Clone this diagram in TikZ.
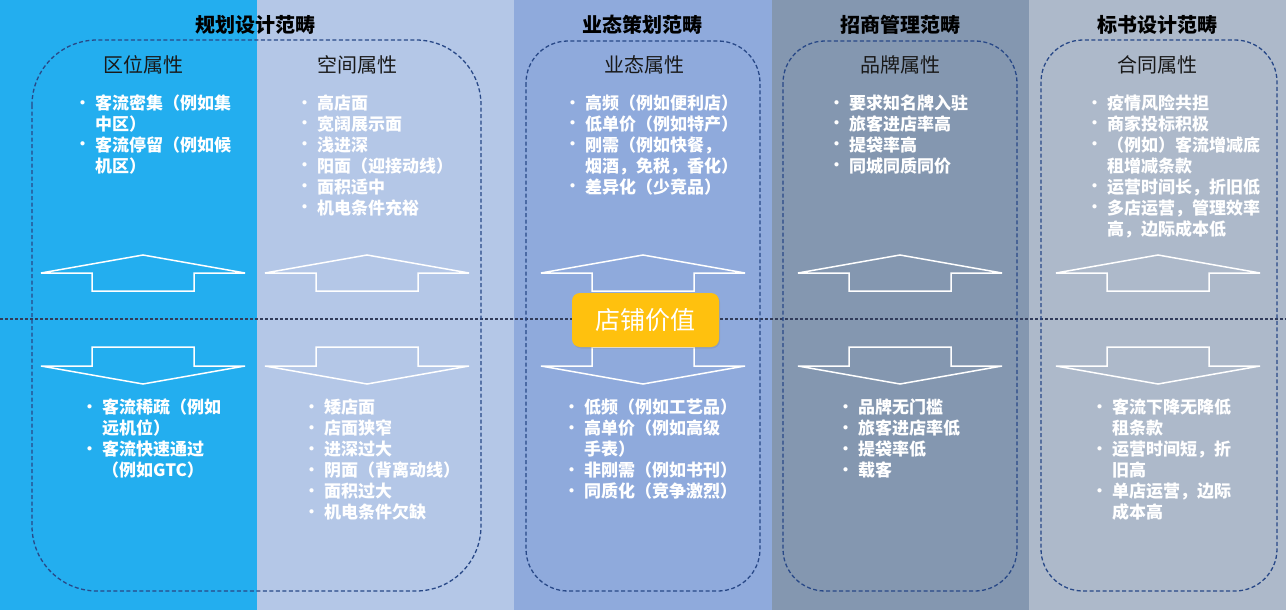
\documentclass[tikz,border=0pt]{standalone}
\usepackage{fontspec}
\setmainfont{Noto Sans CJK SC}
\usetikzlibrary{shadows}
\definecolor{cA}{RGB}{35,174,239}
\definecolor{cB}{RGB}{180,199,231}
\definecolor{cC}{RGB}{143,170,220}
\definecolor{cD}{RGB}{132,151,176}
\definecolor{cE}{RGB}{173,185,202}
\definecolor{dashblue}{RGB}{40,72,135}
\definecolor{hlinecol}{RGB}{50,60,90}
\definecolor{gold}{RGB}{255,193,14}
\newcommand\bi[1]{\makebox[22pt][l]{\hspace{2pt}\raisebox{1.5pt}{\fontsize{15}{15}\selectfont•}}#1}
\newcommand\ci[1]{\hspace*{22pt}#1}
\tikzset{
  hdr/.style={font=\fontsize{20}{24}\selectfont\bfseries, text=black, inner sep=0pt},
  sub/.style={font=\fontsize{20}{24}\selectfont, text=black!90, inner sep=0pt},
  lst/.style={font=\fontsize{17}{21}\selectfont\bfseries, text=white, inner sep=0pt, anchor=base west},
  dbox/.style={draw=dashblue, line width=1.3pt, dash pattern=on 4pt off 2.5pt},
  hline/.style={draw=hlinecol, line width=1.2pt, dash pattern=on 2.5pt off 2.5pt},
  arrline/.style={draw=white, line width=1.5pt, line join=miter},
  core/.style={fill=gold, rounded corners=8pt, minimum width=147pt, minimum height=54pt,
    text=white, font=\fontsize{25}{30}\selectfont, inner sep=0pt,
    drop shadow={opacity=0.25, shadow xshift=1pt, shadow yshift=-1.5pt}}
}
\newcommand\uparr[1]{%
  \draw[arrline] (#1,255) -- ({#1+102},273) -- ({#1+51},273) -- ({#1+51},291)
    -- ({#1-51},291) -- ({#1-51},273) -- ({#1-102},273) -- cycle;}
\newcommand\downarr[1]{%
  \draw[arrline] ({#1-51},347) -- ({#1+51},347) -- ({#1+51},366) -- ({#1+102},366)
    -- (#1,384) -- ({#1-102},366) -- ({#1-51},366) -- cycle;}
\begin{document}
\begin{tikzpicture}[x=1pt,y=-1pt]
\useasboundingbox (0,0) rectangle (1286,610);
% column backgrounds
\fill[cA] (0,0) rectangle (257,610);
\fill[cB] (257,0) rectangle (514,610);
\fill[cC] (514,0) rectangle (772,610);
\fill[cD] (772,0) rectangle (1029,610);
\fill[cE] (1029,0) rectangle (1286,610);
% horizontal dotted line
\draw[hline] (0,319) -- (1286,319);
% dashed rounded boxes
\draw[dbox, rounded corners=65pt] (32,40) rectangle (481,591);
\draw[dbox, rounded corners=42pt] (526,41) rectangle (760,591);
\draw[dbox, rounded corners=42pt] (783,41) rectangle (1017,591);
\draw[dbox, rounded corners=42pt] (1041,40) rectangle (1277,591);
% arrows
\uparr{143}\uparr{367}\uparr{643}\uparr{900}\uparr{1158}
\downarr{143}\downarr{367}\downarr{643}\downarr{900}\downarr{1158}
% headers
\node[hdr] (h1) at (255,25) {规划设计范畴};
\node[hdr] (h2) at (642,25) {业态策划范畴};
\node[hdr] (h3) at (900,25) {招商管理范畴};
\node[hdr] (h4) at (1157,25) {标书设计范畴};
% sub headers
\node[sub] (s1) at (143,65) {区位属性};
\node[sub] (s2) at (357,65) {空间属性};
\node[sub] (s3) at (644,65) {业态属性};
\node[sub] (s4) at (900,65) {品牌属性};
\node[sub] (s5) at (1157,65) {合同属性};
% upper lists
\node[lst] (t1) at (73,109.5) {\parbox[t]{200pt}{%
  \bi{客流密集（例如集}\\\ci{中区）}\\\bi{客流停留（例如候}\\\ci{机区）}}};
\node[lst] (t2) at (295,109.5) {\parbox[t]{200pt}{%
  \bi{高店面}\\\bi{宽阔展示面}\\\bi{浅进深}\\\bi{阳面（迎接动线）}\\\bi{面积适中}\\\bi{机电条件充裕}}};
\node[lst] (t3) at (563,109.5) {\parbox[t]{200pt}{%
  \bi{高频（例如便利店）}\\\bi{低单价（例如特产）}\\\bi{刚需（例如快餐，}\\\ci{烟酒，免税，香化）}\\\bi{差异化（少竞品）}}};
\node[lst] (t4) at (827,109.5) {\parbox[t]{200pt}{%
  \bi{要求知名牌入驻}\\\bi{旅客进店率高}\\\bi{提袋率高}\\\bi{同城同质同价}}};
\node[lst] (t5) at (1085,109.5) {\parbox[t]{200pt}{%
  \bi{疫情风险共担}\\\bi{商家投标积极}\\\bi{（例如）客流增减底}\\\ci{租增减条款}\\\bi{运营时间长，折旧低}\\\bi{多店运营，管理效率}\\\ci{高，边际成本低}}};
% lower lists
\node[lst] (b1) at (80,413.5) {\parbox[t]{200pt}{%
  \bi{客流稀疏（例如}\\\ci{远机位）}\\\bi{客流快速通过}\\\ci{（例如GTC）}}};
\node[lst] (b2) at (302,413.5) {\parbox[t]{200pt}{%
  \bi{矮店面}\\\bi{店面狭窄}\\\bi{进深过大}\\\bi{阴面（背离动线）}\\\bi{面积过大}\\\bi{机电条件欠缺}}};
\node[lst] (b3) at (562,413.5) {\parbox[t]{200pt}{%
  \bi{低频（例如工艺品）}\\\bi{高单价（例如高级}\\\ci{手表）}\\\bi{非刚需（例如书刊）}\\\bi{同质化（竞争激烈）}}};
\node[lst] (b4) at (836,413.5) {\parbox[t]{200pt}{%
  \bi{品牌无门槛}\\\bi{旅客进店率低}\\\bi{提袋率低}\\\bi{载客}}};
\node[lst] (b5) at (1090,413.5) {\parbox[t]{200pt}{%
  \bi{客流下降无降低}\\\ci{租条款}\\\bi{运营时间短，折}\\\ci{旧高}\\\bi{单店运营，边际}\\\ci{成本高}}};
% core node
\node[core] (center) at (645.5,320) {店铺价值};
\end{tikzpicture}
\end{document}
